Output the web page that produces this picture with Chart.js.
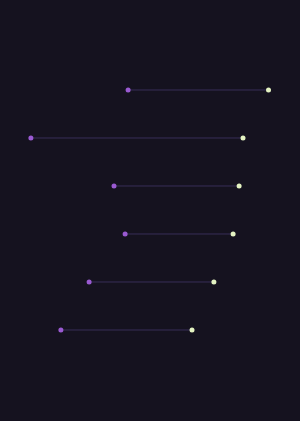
<!DOCTYPE html>
<html>
<head>
<meta charset="utf-8">
<script src="https://cdn.jsdelivr.net/npm/chart.js@4/dist/chart.umd.min.js"></script>
<style>
html,body{margin:0;padding:0;background:#15121f;}
#wrap{width:300px;height:421px;position:relative;}
</style>
</head>
<body>
<div id="wrap"><canvas id="c"></canvas></div>
<script>
const categories = ["A","B","C","D","E","F"];
const startValues = [42.7, 10.3, 38.0, 41.7, 29.7, 20.3];
const endValues = [89.5, 81.0, 79.7, 77.7, 71.3, 64.0];

const startColor = '#9a5ad2';
const endColor = '#e4f3c2';
const lineColor = '#382e58';

const datasets = categories.map((c, i) => ({
  label: c,
  data: [{x: startValues[i], y: i + 1}, {x: endValues[i], y: i + 1}],
  showLine: true,
  borderColor: lineColor,
  borderWidth: 1,
  pointRadius: 2.5,
  pointBorderWidth: 0,
  pointBackgroundColor: [startColor, endColor],
  pointHoverRadius: 2.5,
  clip: false
}));

new Chart(document.getElementById('c'), {
  type: 'scatter',
  data: { datasets },
  options: {
    responsive: true,
    maintainAspectRatio: false,
    animation: false,
    layout: { padding: 0, autoPadding: false },
    plugins: { legend: { display: false }, tooltip: { enabled: false } },
    scales: {
      x: { type: 'linear', min: 0, max: 100, display: false },
      y: { type: 'linear', min: -0.875, max: 7.896, reverse: true, display: false }
    }
  }
});
</script>
</body>
</html>
